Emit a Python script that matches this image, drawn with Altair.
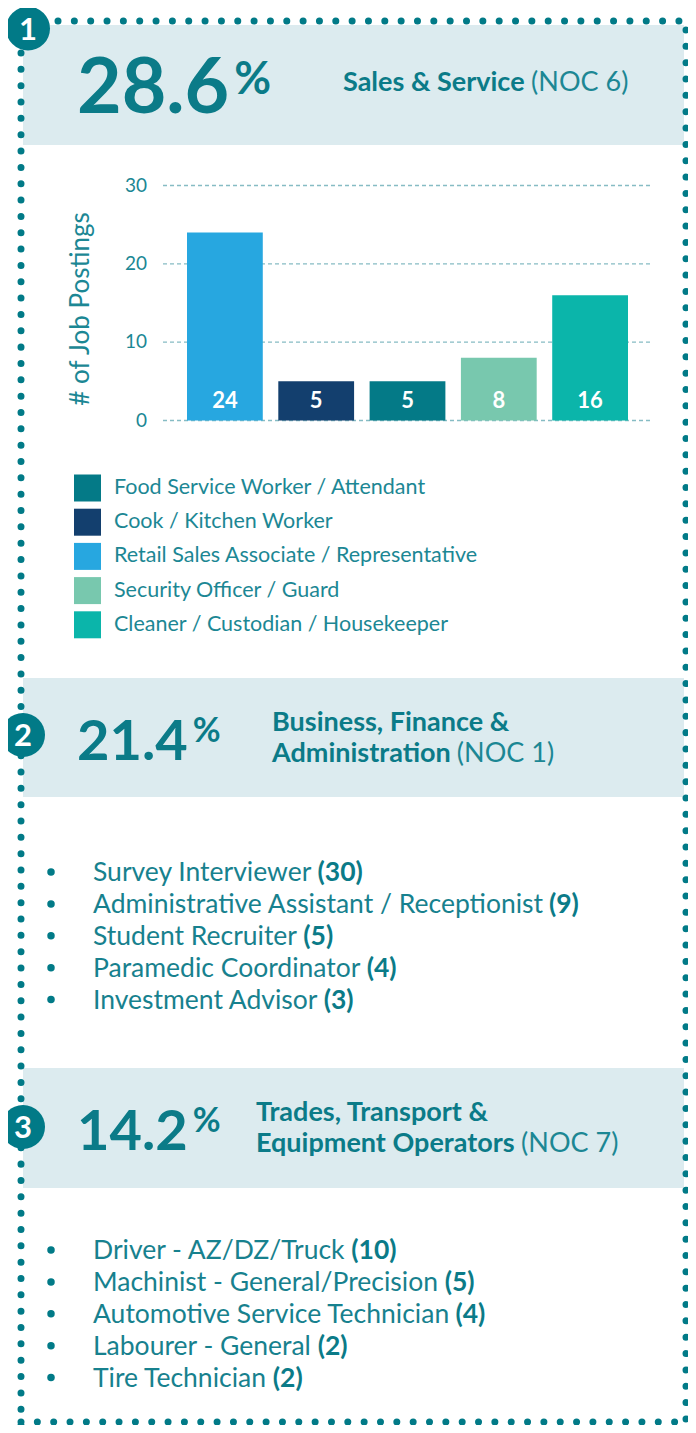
import glob
import os
import struct

import altair as alt
import pandas as pd

# ---------------- data ----------------
section_ids = ["1", "2", "3"]
section_shares = ["28.6", "21.4", "14.2"]
section_title_lines = [
    ["Sales & Service"],
    ["Business, Finance &", "Administration"],
    ["Trades, Transport &", "Equipment Operators"],
]
section_codes = ["(NOC 6)", "(NOC 1)", "(NOC 7)"]

bar_jobs = [
    "Retail Sales Associate / Representative",
    "Cook / Kitchen Worker",
    "Food Service Worker / Attendant",
    "Security Officer / Guard",
    "Cleaner / Custodian / Housekeeper",
]
bar_counts = [24, 5, 5, 8, 16]

legend_jobs = [
    "Food Service Worker / Attendant",
    "Cook / Kitchen Worker",
    "Retail Sales Associate / Representative",
    "Security Officer / Guard",
    "Cleaner / Custodian / Housekeeper",
]
legend_colors = ["#047A87", "#133F6E", "#27A7E0", "#78C8AE", "#0BB5AA"]

y_ticks = [0, 10, 20, 30]
y_title = "# of Job Postings"

business_jobs = [
    "Survey Interviewer",
    "Administrative Assistant / Receptionist",
    "Student Recruiter",
    "Paramedic Coordinator",
    "Investment Advisor",
]
business_counts = [30, 9, 5, 4, 3]

trades_jobs = [
    "Driver - AZ/DZ/Truck",
    "Machinist - General/Precision",
    "Automotive Service Technician",
    "Labourer - General",
    "Tire Technician",
]
trades_counts = [10, 5, 4, 2, 2]

# ---------------- styling ----------------
FONT = "Lato"
TEAL = "#017A87"
TITLE = "#0B7B88"
SOFT = "#1C8794"
LIST = "#17818E"
BAND = "#DCEBEF"
GRID = "#86BCC4"
W, H = 680, 1417
OX, OY = 8, 8


def px(v):
    return v - OX


def py(v):
    return v - OY


# ---------------- font metrics (for mixed-weight runs) ----------------
def find_font(name):
    pats = [
        "/usr/share/fonts/**/" + name,
        "/usr/local/share/fonts/**/" + name,
        os.path.expanduser("~/.fonts/**/" + name),
        os.path.expanduser("~/.local/share/fonts/**/" + name),
    ]
    for p in pats:
        hits = glob.glob(p, recursive=True)
        if hits:
            return hits[0]
    return None


def _popcount(v):
    return bin(v).count("1")


class Metrics:
    def __init__(self, path, fallback):
        self.ok = False
        self.fallback = fallback
        self.kern_lookups = []
        self.kcache = {}
        if not path:
            return
        try:
            data = open(path, "rb").read()
            self.data = data
            num = struct.unpack(">H", data[4:6])[0]
            tabs = {}
            for i in range(num):
                tag, _, off, ln = struct.unpack(">4sIII", data[12 + 16 * i:28 + 16 * i])
                tabs[tag] = off
            head = tabs[b"head"]
            self.upm = struct.unpack(">H", data[head + 18:head + 20])[0]
            hhea = tabs[b"hhea"]
            nh = struct.unpack(">H", data[hhea + 34:hhea + 36])[0]
            hm = tabs[b"hmtx"]
            self.adv = [struct.unpack(">H", data[hm + 4 * i:hm + 4 * i + 2])[0] for i in range(nh)]
            cm = tabs[b"cmap"]
            n = struct.unpack(">H", data[cm + 2:cm + 4])[0]
            self.cmap = {}
            for i in range(n):
                pid, eid, off = struct.unpack(">HHI", data[cm + 4 + 8 * i:cm + 12 + 8 * i])
                sub = cm + off
                if struct.unpack(">H", data[sub:sub + 2])[0] != 4:
                    continue
                segx2 = struct.unpack(">H", data[sub + 6:sub + 8])[0]
                seg = segx2 // 2
                ends = struct.unpack(">%dH" % seg, data[sub + 14:sub + 14 + segx2])
                starts = struct.unpack(">%dH" % seg, data[sub + 16 + segx2:sub + 16 + 2 * segx2])
                deltas = struct.unpack(">%dh" % seg, data[sub + 16 + 2 * segx2:sub + 16 + 3 * segx2])
                ro = sub + 16 + 3 * segx2
                roffs = struct.unpack(">%dH" % seg, data[ro:ro + segx2])
                for s in range(seg):
                    for c in range(starts[s], min(ends[s], 0x24FF) + 1):
                        if roffs[s] == 0:
                            g = (c + deltas[s]) & 0xFFFF
                        else:
                            a = ro + 2 * s + roffs[s] + 2 * (c - starts[s])
                            g = struct.unpack(">H", data[a:a + 2])[0]
                            if g:
                                g = (g + deltas[s]) & 0xFFFF
                        self.cmap[c] = g
                self.ok = True
                break
        except Exception:
            self.ok = False
            return
        try:
            self._parse_gpos(tabs)
        except Exception:
            self.kern_lookups = []

    # --- GPOS pair kerning ---
    def _u16(self, o):
        return struct.unpack(">H", self.data[o:o + 2])[0]

    def _s16(self, o):
        return struct.unpack(">h", self.data[o:o + 2])[0]

    def _u32(self, o):
        return struct.unpack(">I", self.data[o:o + 4])[0]

    def _parse_gpos(self, tabs):
        if b"GPOS" not in tabs:
            return
        base = tabs[b"GPOS"]
        u16 = self._u16
        feat_list = base + u16(base + 6)
        lookup_list = base + u16(base + 8)
        idxs = set()
        for i in range(u16(feat_list)):
            tag = self.data[feat_list + 2 + 6 * i:feat_list + 6 + 6 * i]
            if tag == b"kern":
                f = feat_list + u16(feat_list + 6 + 6 * i)
                for j in range(u16(f + 2)):
                    idxs.add(u16(f + 4 + 2 * j))
        for li in sorted(idxs):
            lk = lookup_list + u16(lookup_list + 2 + 2 * li)
            ltype = u16(lk)
            subs = []
            for si in range(u16(lk + 4)):
                st = lk + u16(lk + 6 + 2 * si)
                t = ltype
                if t == 9:
                    t = u16(st + 2)
                    st = st + self._u32(st + 4)
                if t == 2:
                    subs.append(st)
            if subs:
                self.kern_lookups.append(subs)

    def _cov(self, cov, g):
        u16 = self._u16
        fmt = u16(cov)
        n = u16(cov + 2)
        if fmt == 1:
            for i in range(n):
                if u16(cov + 4 + 2 * i) == g:
                    return i
            return -1
        for i in range(n):
            r = cov + 4 + 6 * i
            s, e = u16(r), u16(r + 2)
            if s <= g <= e:
                return u16(r + 4) + g - s
        return -1

    def _cls(self, cd, g):
        u16 = self._u16
        fmt = u16(cd)
        if fmt == 1:
            start, n = u16(cd + 2), u16(cd + 4)
            if start <= g < start + n:
                return u16(cd + 6 + 2 * (g - start))
            return 0
        for i in range(u16(cd + 2)):
            r = cd + 4 + 6 * i
            if u16(r) <= g <= u16(r + 2):
                return u16(r + 4)
        return 0

    def _xadv(self, vf, rec):
        off = rec
        val = 0
        for bit in (1, 2, 4, 8, 16, 32, 64, 128):
            if vf & bit:
                if bit == 4:
                    val = self._s16(off)
                off += 2
        return val

    def _pair(self, g1, g2):
        key = (g1, g2)
        if key in self.kcache:
            return self.kcache[key]
        u16 = self._u16
        total = 0
        for subs in self.kern_lookups:
            for st in subs:
                fmt = u16(st)
                cov = st + u16(st + 2)
                vf1, vf2 = u16(st + 4), u16(st + 6)
                ci = self._cov(cov, g1)
                if ci < 0:
                    continue
                if fmt == 1:
                    ps = st + u16(st + 10 + 2 * ci)
                    size = 2 + 2 * _popcount(vf1) + 2 * _popcount(vf2)
                    found = False
                    for i in range(u16(ps)):
                        r = ps + 2 + i * size
                        if u16(r) == g2:
                            total += self._xadv(vf1, r + 2)
                            found = True
                            break
                    if found:
                        break
                elif fmt == 2:
                    cd1 = st + u16(st + 8)
                    cd2 = st + u16(st + 10)
                    c2n = u16(st + 14)
                    c1 = self._cls(cd1, g1)
                    c2 = self._cls(cd2, g2)
                    size = 2 * _popcount(vf1) + 2 * _popcount(vf2)
                    total += self._xadv(vf1, st + 16 + (c1 * c2n + c2) * size)
                    break
        self.kcache[key] = total
        return total

    def width(self, text, size):
        if not self.ok:
            return self.fallback * size * len(text)
        tot = 0
        prev = None
        for ch in text:
            g = self.cmap.get(ord(ch), 0)
            tot += self.adv[g] if g < len(self.adv) else self.adv[-1]
            if prev is not None and self.kern_lookups:
                try:
                    tot += self._pair(prev, g)
                except Exception:
                    pass
            prev = g
        return tot * size / self.upm


REG = Metrics(find_font("Lato-Regular.ttf"), 0.52)
BOLD = Metrics(find_font("Lato-Bold.ttf"), 0.55)


def text_layer(rows, weight, color, align="left", baseline="alphabetic"):
    df = pd.DataFrame(rows)
    return alt.Chart(df).mark_text(
        font=FONT, fontWeight=weight, color=color, align=align, baseline=baseline
    ).encode(
        x=alt.X("x:Q", scale=None, axis=None),
        y=alt.Y("y:Q", scale=None, axis=None),
        text=alt.Text("t:N"),
        size=alt.Size("fs:Q", scale=None, legend=None),
    )


# ---------------- background bands ----------------
band_tops = [25, 678, 1068]
band_bottoms = [145, 797, 1188]
bands = pd.DataFrame({
    "x1": [px(23)] * 3, "x2": [px(684)] * 3,
    "y1": [py(v) for v in band_tops], "y2": [py(v) for v in band_bottoms],
})
band_layer = alt.Chart(bands).mark_rect(color=BAND).encode(
    x=alt.X("x1:Q", scale=None, axis=None), x2="x2:Q",
    y=alt.Y("y1:Q", scale=None, axis=None), y2="y2:Q",
)

# ---------------- dotted frame ----------------
frame = pd.DataFrame({
    "x1": [px(58), px(21), px(686), px(21)],
    "x2": [px(690), px(21), px(686), px(690)],
    "y1": [py(21), py(53), py(30), py(1422)],
    "y2": [py(21), py(1430), py(1430), py(1422)],
})
frame_layer = alt.Chart(frame).mark_rule(
    color=TEAL, strokeWidth=7, strokeCap="round", strokeDash=[0.01, 16.33]
).encode(
    x=alt.X("x1:Q", scale=None, axis=None), x2="x2:Q",
    y=alt.Y("y1:Q", scale=None, axis=None), y2="y2:Q",
)

# ---------------- numbered circles ----------------
circle_x = [28, 23, 23]
circle_y = [28.5, 735, 1127]
circles = pd.DataFrame({
    "x": [px(v) for v in circle_x], "y": [py(v) for v in circle_y],
    "t": section_ids, "fs": [31] * 3,
})
circle_layer = alt.Chart(circles).mark_circle(color=TEAL, opacity=1, size=44 * 44).encode(
    x=alt.X("x:Q", scale=None, axis=None), y=alt.Y("y:Q", scale=None, axis=None),
)
circle_num_rows = [
    {"x": r.x, "y": r.y + 11, "t": r.t, "fs": r.fs} for r in circles.itertuples()
]
circle_num_layer = text_layer(circle_num_rows, "bold", "#FFFFFF", align="center")

# ---------------- section headers ----------------
share_x = 77
share_base = [113, 760, 1150]
share_size = [77, 56, 56]
pct_top = [62, 718, 1108]
pct_size = [45, 34, 34]
pct_gap = [5, 5, 5]
title_x = [343, 272, 256]
title_base = [[91], [731, 762], [1121, 1152]]
title_size = 27

bold_rows, soft_rows = [], []
for i in range(3):
    bold_rows.append({"x": px(share_x), "y": py(share_base[i]), "t": section_shares[i], "fs": share_size[i]})
    wpct = BOLD.width(section_shares[i], share_size[i])
    bold_rows.append({"x": px(share_x + wpct + pct_gap[i]), "y": py(pct_top[i] + 0.72 * pct_size[i]),
                      "t": "%", "fs": pct_size[i]})
    lines = section_title_lines[i]
    for j, line in enumerate(lines):
        bold_rows.append({"x": px(title_x[i]), "y": py(title_base[i][j]), "t": line, "fs": title_size})
    last = lines[-1]
    soft_rows.append({
        "x": px(title_x[i] + BOLD.width(last + " ", title_size)),
        "y": py(title_base[i][-1]), "t": section_codes[i], "fs": title_size,
    })
header_bold_layer = text_layer(bold_rows, "bold", TITLE)
header_soft_layer = text_layer(soft_rows, "normal", SOFT)

# ---------------- bar chart ----------------
xs = alt.Scale(domain=bar_jobs, range=[px(187), px(628)], paddingInner=0.17, paddingOuter=0)
ys = alt.Scale(domain=[0, 30], range=[py(420.5), py(185.5)], nice=False, zero=True)

ticks_df = pd.DataFrame({"tick": y_ticks})
grid_layer = alt.Chart(ticks_df).mark_rule(
    color=GRID, strokeWidth=1.3, strokeDash=[4, 3]
).encode(
    y=alt.Y("tick:Q", scale=ys, axis=None),
    x=alt.value(px(163)), x2=alt.value(px(650)),
)
tick_label_layer = alt.Chart(ticks_df).mark_text(
    font=FONT, fontSize=19, color=SOFT, align="right", baseline="middle"
).encode(
    y=alt.Y("tick:Q", scale=ys, axis=None),
    x=alt.value(px(147)),
    text=alt.Text("tick:Q"),
)
y_title_layer = alt.Chart(pd.DataFrame({"t": [y_title]})).mark_text(
    font=FONT, fontSize=26, color=SOFT, align="center", baseline="middle", angle=270
).encode(
    x=alt.value(px(81)), y=alt.value(py(309)), text="t:N",
)

bars_df = pd.DataFrame({"job": bar_jobs, "count": bar_counts})
bar_layer = alt.Chart(bars_df).mark_bar(opacity=1).encode(
    x=alt.X("job:N", scale=xs, axis=None),
    y=alt.Y("count:Q", scale=ys, axis=None),
    color=alt.Color(
        "job:N",
        scale=alt.Scale(domain=legend_jobs, range=legend_colors),
        legend=alt.Legend(
            orient="none", legendX=px(74), legendY=py(474.5), direction="vertical",
            title=None, symbolType="square", symbolSize=27 * 27, symbolStrokeWidth=0,
            symbolOpacity=1, labelFont=FONT, labelFontSize=21.5, labelColor=SOFT,
            labelOffset=13, rowPadding=7.2, padding=0, labelLimit=600,
        ),
    ),
)
bar_label_layer = alt.Chart(bars_df).transform_calculate(base="0").mark_text(
    font=FONT, fontWeight="bold", fontSize=22, color="#FFFFFF", baseline="bottom", dy=-8
).encode(
    x=alt.X("job:N", scale=xs, axis=None),
    y=alt.Y("base:Q", scale=ys, axis=None),
    text=alt.Text("count:Q"),
)

# ---------------- bullet lists ----------------
list_size = 26.5
text_x = 93
bullet_x = 51
list_first_base = [881, 1259]
list_step = 31.9
bullet_rows, name_rows, count_rows = [], [], []
for k, (jobs, counts) in enumerate([(business_jobs, business_counts), (trades_jobs, trades_counts)]):
    for i, (job, cnt) in enumerate(zip(jobs, counts)):
        base = list_first_base[k] + i * list_step
        bullet_rows.append({"x": px(bullet_x), "y": py(base - 9)})
        name_rows.append({"x": px(text_x), "y": py(base), "t": job, "fs": list_size})
        count_rows.append({
            "x": px(text_x + REG.width(job + " ", list_size)), "y": py(base),
            "t": "(%d)" % cnt, "fs": list_size,
        })
bullet_layer = alt.Chart(pd.DataFrame(bullet_rows)).mark_circle(color=TEAL, opacity=1, size=56).encode(
    x=alt.X("x:Q", scale=None, axis=None), y=alt.Y("y:Q", scale=None, axis=None),
)
name_layer = text_layer(name_rows, "normal", LIST)
count_layer = text_layer(count_rows, "bold", TITLE)

chart = alt.layer(
    band_layer, frame_layer, circle_layer, circle_num_layer,
    header_bold_layer, header_soft_layer,
    grid_layer, tick_label_layer, y_title_layer, bar_layer, bar_label_layer,
    bullet_layer, name_layer, count_layer,
).properties(
    width=W, height=H, autosize=alt.AutoSizeParams(type="none"), padding=0,
    background="#FFFFFF",
).configure_view(stroke=None)

chart.save("out.html", embed_options={"renderer": "svg", "actions": False})
